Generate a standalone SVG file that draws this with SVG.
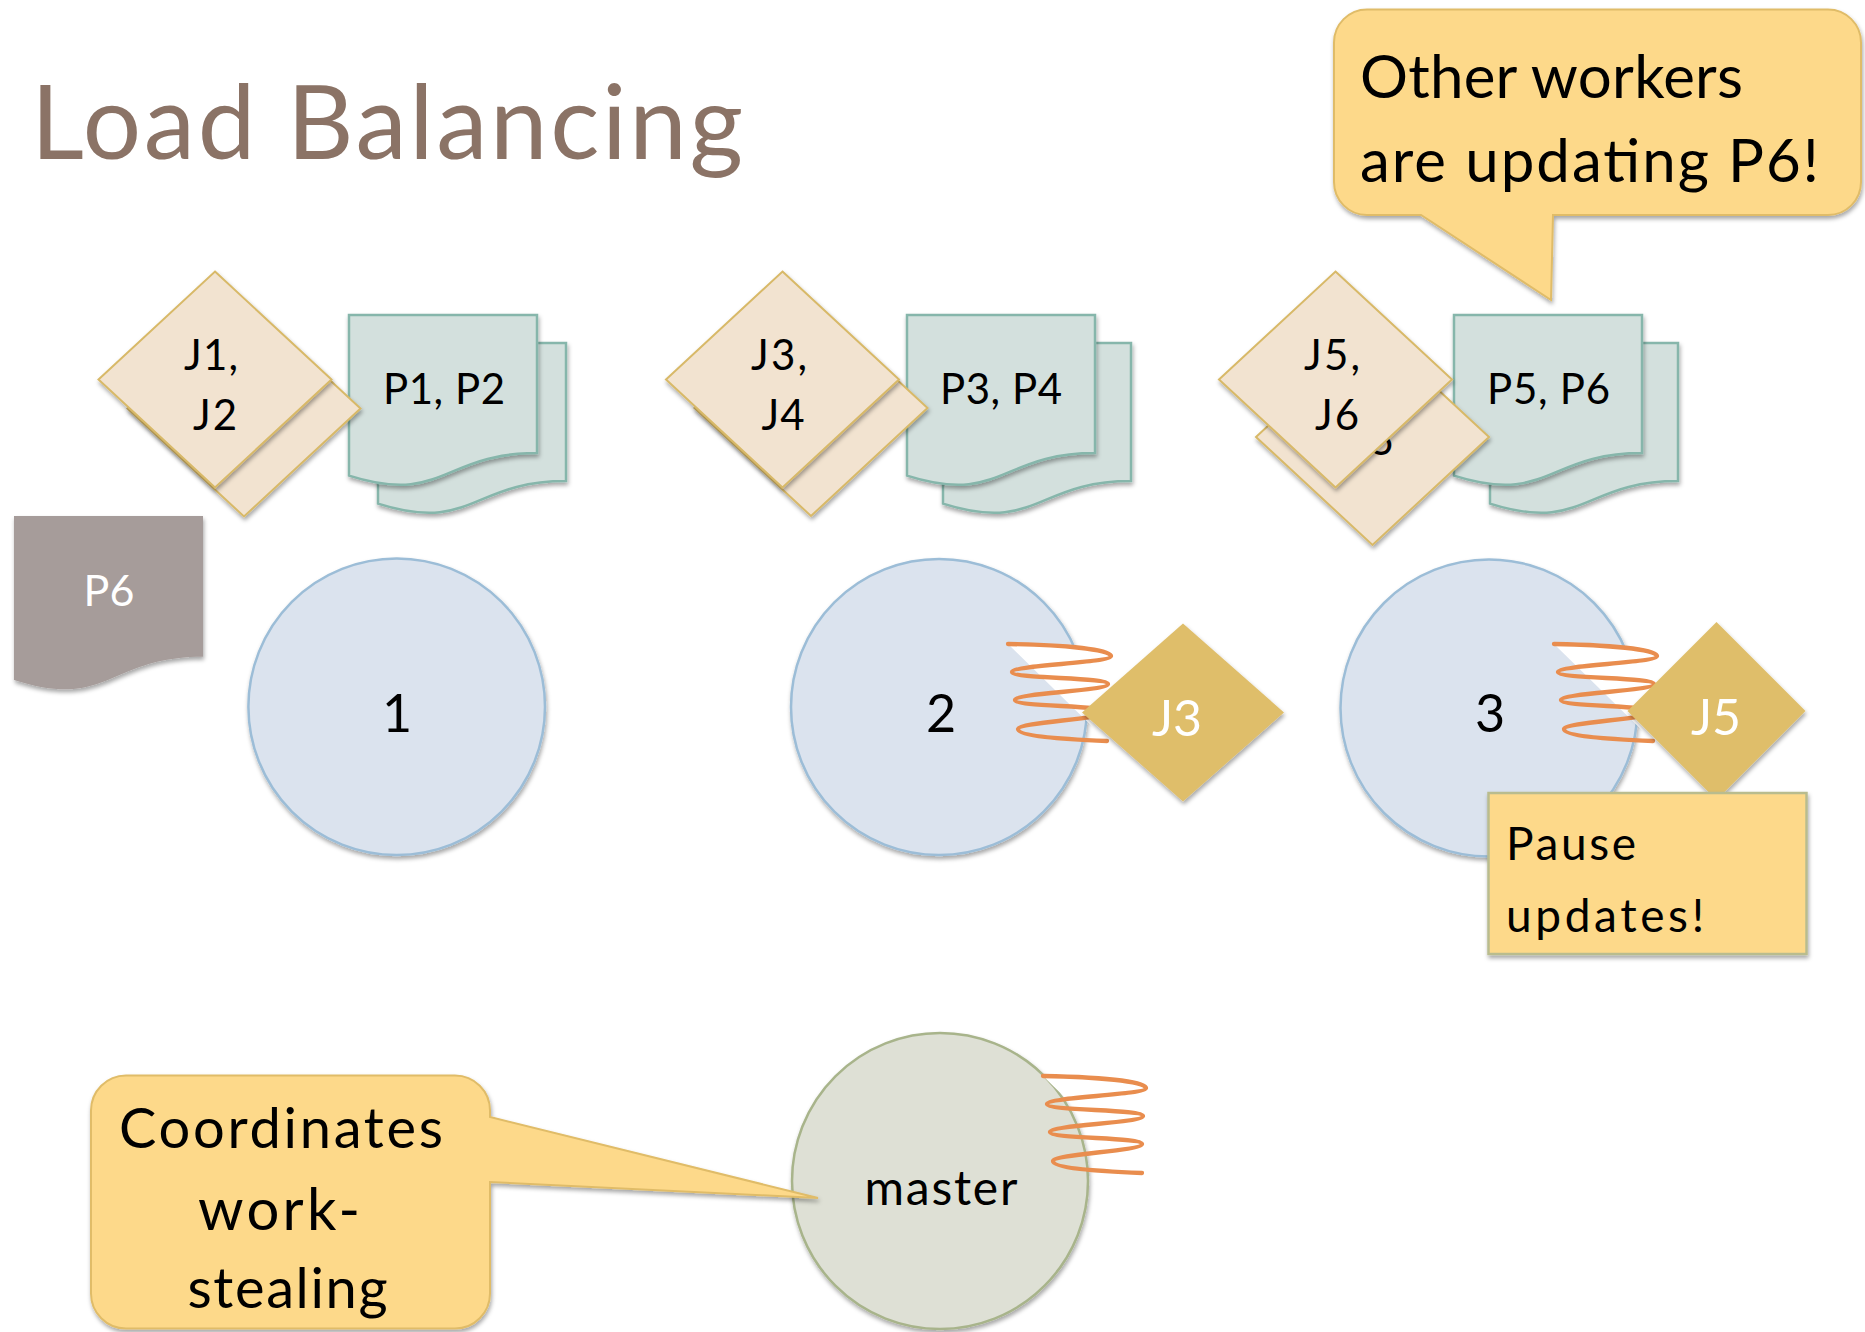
<svg xmlns="http://www.w3.org/2000/svg" width="1865" height="1332" viewBox="0 0 1865 1332">
  <defs>
    <style>
      text { font-family: Lato, "Noto Sans", "Liberation Sans", sans-serif; fill: #000; }
      .title { font-size: 103px; fill: #8B7366; }
      .lbl { font-size: 42px; text-anchor: middle; }
      .num { font-size: 52px; text-anchor: middle; }
      .wlbl { font-size: 50px; text-anchor: middle; fill: #fff; }
      .job { fill: #F2E3D0; stroke: #D8B968; stroke-width: 2; }
      .page { fill: #D3E0DD; stroke: #86B6AB; stroke-width: 2.5; }
      .worker { fill: #DBE3EE; stroke: #9CBDD7; stroke-width: 2.5; }
      .master { fill: #DEE0D5; stroke: #A8B48B; stroke-width: 2.5; }
      .active { fill: #DFBE6B; }
      .spring { fill: none; stroke: #E98D4E; stroke-width: 4.3; stroke-linecap: round; }
      .callout { fill: #FDD98A; stroke: #E0BC68; stroke-width: 2; }
      .note { fill: #FDD98A; stroke: #B9BC8E; stroke-width: 2.5; }
    </style>
    <filter id="shadow" x="-20%" y="-20%" width="140%" height="150%">
      <feDropShadow dx="1" dy="3" stdDeviation="2.2" flood-color="#000" flood-opacity="0.35"/>
    </filter>
    <!-- wavy-bottom page shape -->
    <path id="doc" d="M0,0 H188 V138 C94,138 94,190.4 0,160.6 Z"/>
    <!-- job diamond -->
    <path id="jobShape" d="M0,-108 L116.5,0 L0,108 L-116.5,0 Z"/>
    <!-- busy spring and the white patch it leaves on the node under it -->
    <path id="coil" d="M0,0 C52,1 103,5 103,12 C103,19 4,21 4,28 C4,35 100,33 100,40 C100,47 7,49 7,56 C7,63 99,61 99,68 C99,75 10,78 10,85 C10,92 52,95 99,97"/>
    <path id="patch" d="M0,0 C52,1 103,5 103,12 L105,12 L105,97 L99,97 Z"/>
  </defs>

  <rect width="1865" height="1332" fill="#fff"/>

  <text class="title" x="31" y="159" textLength="712" lengthAdjust="spacing">Load Balancing</text>

  <!-- page P6 -->
  <g id="page-p6">
    <path d="M14,516 H203 V656.8 C108.5,656.8 108.5,710.4 14,680 Z" fill="#A69C9A" filter="url(#shadow)"/>
    <text class="lbl" x="109" y="606" style="fill:#fff;font-size:43px">P6</text>
  </g>

  <!-- worker 1 stack -->
  <g id="pages-1">
    <use href="#doc" class="page" x="378" y="343" filter="url(#shadow)"/>
    <use href="#doc" class="page" x="349" y="315" filter="url(#shadow)"/>
    <text class="lbl" x="444" y="404" textLength="122" lengthAdjust="spacing">P1, P2</text>
  </g>
  <g id="jobs-1">
    <use href="#jobShape" class="job" x="244" y="408.5" filter="url(#shadow)"/>
    <use href="#jobShape" class="job" x="215" y="379.5" filter="url(#shadow)"/>
    <text class="lbl" x="211" y="370" textLength="54" lengthAdjust="spacing">J1,</text>
    <text class="lbl" x="215" y="430" textLength="44" lengthAdjust="spacing">J2</text>
  </g>

  <!-- worker 2 stack -->
  <g id="pages-2">
    <use href="#doc" class="page" x="943" y="343" filter="url(#shadow)"/>
    <use href="#doc" class="page" x="907" y="315" filter="url(#shadow)"/>
    <text class="lbl" x="1001" y="404" textLength="122" lengthAdjust="spacing">P3, P4</text>
  </g>
  <g id="jobs-2">
    <use href="#jobShape" class="job" x="811" y="408" filter="url(#shadow)"/>
    <use href="#jobShape" class="job" x="782.5" y="379.5" filter="url(#shadow)"/>
    <text class="lbl" x="779" y="370" textLength="56" lengthAdjust="spacing">J3,</text>
    <text class="lbl" x="783" y="430" textLength="43" lengthAdjust="spacing">J4</text>
  </g>

  <!-- worker 3 stack -->
  <g id="pages-3">
    <use href="#doc" class="page" x="1490" y="343" filter="url(#shadow)"/>
    <use href="#doc" class="page" x="1454" y="315" filter="url(#shadow)"/>
    <text class="lbl" x="1548.5" y="404" textLength="123" lengthAdjust="spacing">P5, P6</text>
  </g>
  <g id="jobs-3">
    <use href="#jobShape" class="job" x="1372.5" y="437" filter="url(#shadow)"/>
    <text class="lbl" x="1372" y="455">J6</text>
    <use href="#jobShape" class="job" x="1335.5" y="379.5" filter="url(#shadow)"/>
    <text class="lbl" x="1332" y="370" textLength="56" lengthAdjust="spacing">J5,</text>
    <text class="lbl" x="1337" y="430" textLength="44" lengthAdjust="spacing">J6</text>
  </g>

  <!-- callout: other workers -->
  <g id="callout-updating">
    <path class="callout" filter="url(#shadow)" d="M1367,9.5 H1828 A33,33 0 0 1 1861,42.5 V182 A33,33 0 0 1 1828,215 H1553 L1551,300 L1421,215 H1367 A33,33 0 0 1 1334,182 V42.5 A33,33 0 0 1 1367,9.5 Z"/>
    <text x="1360" y="98" style="font-size:60px" textLength="383" lengthAdjust="spacing">Other workers</text>
    <text x="1360" y="182" style="font-size:60px" textLength="459" lengthAdjust="spacing">are updating P6!</text>
  </g>

  <!-- workers -->
  <g id="worker-1">
    <circle class="worker" cx="396.7" cy="706.7" r="148.3" filter="url(#shadow)"/>
    <text class="num" x="397" y="732">1</text>
  </g>
  <g id="worker-2">
    <circle class="worker" cx="939" cy="707" r="148" filter="url(#shadow)"/>
    <text class="num" x="941" y="732">2</text>
  </g>
  <g id="worker-3">
    <circle class="worker" cx="1489" cy="708" r="148.5" filter="url(#shadow)"/>
    <text class="num" x="1490" y="732">3</text>
  </g>
  <g id="master">
    <circle class="master" cx="940" cy="1181" r="148" filter="url(#shadow)"/>
    <text x="941" y="1205" style="font-size:48px;text-anchor:middle" textLength="153" lengthAdjust="spacing">master</text>
  </g>

  <!-- springs linking nodes to the job they are busy with -->
  <g id="connectors">
    <use href="#patch" x="1008" y="644" fill="#fff"/>
    <use href="#coil" class="spring" x="1008" y="644"/>
    <use href="#patch" x="1554" y="644" fill="#fff"/>
    <use href="#coil" class="spring" x="1554" y="644"/>
    <use href="#patch" x="1043" y="1076" fill="#fff"/>
    <use href="#coil" class="spring" x="1043" y="1076"/>
  </g>

  <!-- jobs being processed -->
  <g id="job-j3">
    <path class="active" filter="url(#shadow)" d="M1183,623.5 L1284,712.5 L1183,801.5 L1082,712.5 Z"/>
    <text class="wlbl" x="1177" y="736">J3</text>
  </g>
  <g id="job-j5">
    <path class="active" filter="url(#shadow)" d="M1716.5,622 L1805.5,711 L1716.5,800 L1627.5,711 Z"/>
    <text class="wlbl" x="1716" y="735">J5</text>
  </g>

  <!-- note: pause updates -->
  <g id="note-pause">
    <rect class="note" x="1488.5" y="793" width="318" height="161" filter="url(#shadow)"/>
    <text x="1506" y="860" style="font-size:46px" textLength="130" lengthAdjust="spacing">Pause</text>
    <text x="1506" y="932" style="font-size:46px" textLength="198" lengthAdjust="spacing">updates!</text>
  </g>

  <!-- callout: master role -->
  <g id="callout-master">
    <path class="callout" filter="url(#shadow)" d="M126,1075.5 H455 A35,35 0 0 1 490,1110.5 V1117 L818,1198 L490,1182 V1293.5 A35,35 0 0 1 455,1328.5 H126 A35,35 0 0 1 91,1293.5 V1110.5 A35,35 0 0 1 126,1075.5 Z"/>
    <text x="281" y="1148" style="font-size:56px;text-anchor:middle" textLength="324" lengthAdjust="spacing">Coordinates</text>
    <text x="279" y="1230" style="font-size:58px;text-anchor:middle" textLength="162" lengthAdjust="spacing">work-</text>
    <text x="287.5" y="1308" style="font-size:56px;text-anchor:middle" textLength="200" lengthAdjust="spacing">stealing</text>
  </g>
</svg>
